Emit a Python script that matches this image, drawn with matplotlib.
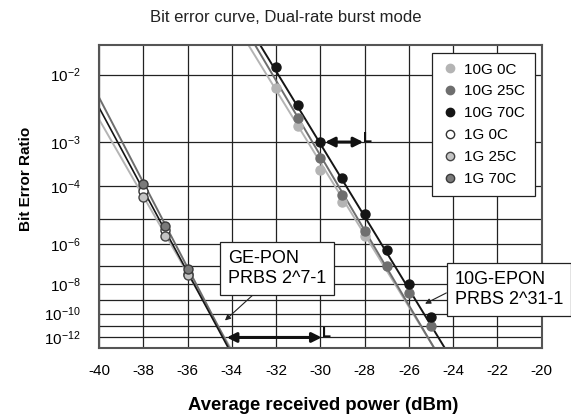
import math
import numpy as np
import matplotlib
matplotlib.use("Agg")
import matplotlib.pyplot as plt
from matplotlib.lines import Line2D

plt.rcParams['font.family'] = ['Liberation Sans', 'DejaVu Sans']

# --- data (received power in dBm, BER) ---
power_10g = [-32, -31, -30, -29, -28, -27, -26, -25]
ber_10g_70c = [1.2e-2, 4.1e-3, 1.0e-3, 1.6e-4, 1.4e-5, 5.6e-7, 9.4e-9, 5.2e-11]
power_10g_25c = [-31, -30, -29, -28, -27, -26, -25]
ber_10g_25c = [2.6e-3, 4.7e-4, 5.7e-5, 3.6e-6, 9.4e-8, 2.7e-9, 1.1e-11]
power_10g_0c = [-32, -31, -30, -29, -28]
ber_10g_0c = [6.9e-3, 1.9e-3, 2.6e-4, 3.4e-5, 2.2e-6]

power_1g = [-38, -37, -36]
ber_1g_0c = [7.5e-5, 3.8e-6, 3.6e-8]
ber_1g_25c = [4.8e-5, 2.2e-6, 3.2e-8]
ber_1g_70c = [1.14e-4, 5.6e-6, 6.5e-8]

# fitted lines (end points)
fit_ber_10g = [2e-2, 9e-14]
fit_10g_0c = [-33.25, -24.85]
fit_10g_25c = [-32.95, -24.85]
fit_10g_70c = [-32.72, -24.37]
fit_1g_0c_x = [-40, -34.15]
fit_1g_25c_x = [-40, -34.05]
fit_1g_70c_x = [-40, -34.1]
fit_1g_0c = [3.78e-3, 9e-14]
fit_1g_25c = [2.50e-3, 9e-14]
fit_1g_70c = [5.23e-3, 9e-14]

y_major = [1e-2, 1e-3, 1e-4, 1e-6, 1e-8, 1e-10, 1e-12]
y_major_labels = ['$\\mathregular{10^{-%d}}$' % n for n in [2, 3, 4, 6, 8, 10, 12]]
y_minor = [1e-5, 1e-7, 1e-9, 1e-11]
x_ticks = list(range(-40, -19, 2))

c_light = '#b4b4b4'
c_dark = '#6e6e6e'
c_black = '#151515'

_erfc = np.vectorize(math.erfc)


def q_of_ber(b):
    b = np.clip(np.asarray(b, dtype=float), 1e-300, 0.49)
    t = np.sqrt(-2 * np.log(b))
    q = t - (2.515517 + 0.802853 * t + 0.010328 * t ** 2) / \
        (1 + 1.432788 * t + 0.189269 * t ** 2 + 0.001308 * t ** 3)
    for _ in range(2):
        p = np.maximum(0.5 * _erfc(q / np.sqrt(2)), 1e-300)
        dp = -np.exp(-q * q / 2) / np.sqrt(2 * np.pi)
        q = q - (np.log(p) - np.log(b)) / (dp / p)
    return q


def forward(b):
    return -np.log10(q_of_ber(b))


def inverse(y):
    return 0.5 * _erfc(10 ** (-np.asarray(y, dtype=float)) / np.sqrt(2))


fig = plt.figure(figsize=(5.71, 4.16), dpi=100)
ax = fig.add_axes([99 / 571, 1 - 348.3 / 416, 442.7 / 571, 303.3 / 416])
ax.set_yscale('function', functions=(forward, inverse))
ax.set_xlim(-40, -20)
ax.set_ylim(9e-14, 2e-2)

ax.set_xticks(x_ticks)
ax.set_xticklabels([str(v) for v in x_ticks])
ax.set_yticks(y_major)
ax.set_yticklabels(y_major_labels)
ax.set_yticks(y_minor, minor=True)
ax.yaxis.set_minor_formatter(matplotlib.ticker.NullFormatter())
ax.xaxis.set_minor_locator(matplotlib.ticker.NullLocator())
ax.tick_params(which='both', length=0, labelsize=11)
ax.tick_params(axis='x', pad=11)
ax.tick_params(axis='y', pad=13)
ax.grid(True, which='both', color='#222222', lw=0.9)
ax.set_axisbelow(True)
for s in ax.spines.values():
    s.set_color('#555555')
    s.set_linewidth(1.5)

# fitted lines
ax.plot(fit_1g_25c_x, fit_1g_25c, color=c_light, lw=1.4)
ax.plot(fit_1g_70c_x, fit_1g_70c, color=c_dark, lw=1.4)
ax.plot(fit_1g_0c_x, fit_1g_0c, color=c_black, lw=1.2)
ax.plot(fit_10g_0c, fit_ber_10g, color=c_light, lw=1.4)
ax.plot(fit_10g_25c, fit_ber_10g, color=c_dark, lw=1.4)
ax.plot(fit_10g_70c, fit_ber_10g, color=c_black, lw=1.4)

# measured points
ms = 6.5
ax.plot(power_10g_0c, ber_10g_0c, 'o', ms=ms, mfc=c_light, mec=c_light)
ax.plot(power_10g_25c, ber_10g_25c, 'o', ms=ms, mfc=c_dark, mec=c_dark)
ax.plot(power_10g, ber_10g_70c, 'o', ms=ms, mfc=c_black, mec=c_black)
ax.plot(power_1g, ber_1g_0c, 'o', ms=ms, mfc='white', mec='#333333', mew=1)
ax.plot(power_1g, ber_1g_25c, 'o', ms=ms, mfc='#c4c4c4', mec='#444444', mew=1)
ax.plot(power_1g, ber_1g_70c, 'o', ms=ms, mfc='#7a7a7a', mec='#3a3a3a', mew=1)

handles = [
    Line2D([], [], ls='', marker='o', ms=6, mfc=c_light, mec=c_light),
    Line2D([], [], ls='', marker='o', ms=6, mfc=c_dark, mec=c_dark),
    Line2D([], [], ls='', marker='o', ms=6, mfc=c_black, mec=c_black),
    Line2D([], [], ls='', marker='o', ms=6, mfc='white', mec='#333333'),
    Line2D([], [], ls='', marker='o', ms=6, mfc='#c4c4c4', mec='#444444'),
    Line2D([], [], ls='', marker='o', ms=6, mfc='#7a7a7a', mec='#3a3a3a'),
]
labels = ['10G 0C', '10G 25C', '10G 70C', '1G 0C', '1G 25C', '1G 70C']
leg = ax.legend(handles, labels, loc='upper right', bbox_to_anchor=(0.985, 0.975),
                borderaxespad=0, fontsize=11, fancybox=False, framealpha=1,
                edgecolor='#222222', handlelength=1.1, handletextpad=0.35,
                labelspacing=0.52, borderpad=0.65)
leg.get_frame().set_linewidth(0.9)

# annotation boxes
box = dict(boxstyle='square,pad=0.45', fc='white', ec='#222222', lw=0.9)
ax.annotate('GE-PON\nPRBS 2^7-1', xy=(-34.31, 2.9e-11), xycoords='data',
            xytext=(0.2907, 0.2638), textcoords='axes fraction',
            ha='left', va='center', fontsize=13, bbox=box, linespacing=1.2,
            arrowprops=dict(arrowstyle='-|>', color='#222222', lw=0.8,
                            mutation_scale=8, relpos=(0.35, 0), shrinkA=0, shrinkB=0))
ax.annotate('10G-EPON\nPRBS 2^31-1', xy=(-25.27, 5.2e-10), xycoords='data',
            xytext=(0.804, 0.1945), textcoords='axes fraction',
            ha='left', va='center', fontsize=13, bbox=box, linespacing=1.2,
            annotation_clip=False,
            arrowprops=dict(arrowstyle='-|>', color='#222222', lw=0.8,
                            mutation_scale=8, relpos=(0, 0.52), shrinkA=0, shrinkB=0))

# penalty arrows
dbl = dict(arrowstyle='<|-|>', color='#111111', lw=2.2, mutation_scale=14,
           shrinkA=0, shrinkB=0)
ax.annotate('', xy=(-29.79, 1e-3), xytext=(-28.06, 1e-3), arrowprops=dbl)
ax.text(-28.06, 1e-3, 'L', fontsize=10.5, fontweight='bold', ha='left',
        va='baseline', color='#111111')
ax.annotate('', xy=(-34.23, 1e-12), xytext=(-29.94, 1e-12), arrowprops=dbl)
ax.text(-29.94, 1e-12, 'L', fontsize=10.5, fontweight='bold', ha='left',
        va='baseline', color='#111111')

ax.set_xlabel('Average received power (dBm)', fontsize=13.3, fontweight='bold')
ax.xaxis.set_label_coords(0.506, -0.1606)
ax.set_ylabel('Bit Error Ratio', fontsize=11, fontweight='bold')
ax.yaxis.set_label_coords(-0.149, 0.56)
fig.text(0.5, 0.958, 'Bit error curve, Dual-rate burst mode', fontsize=12,
         ha='center', va='center', color='#222222')

fig.savefig('out.png', dpi=100)
